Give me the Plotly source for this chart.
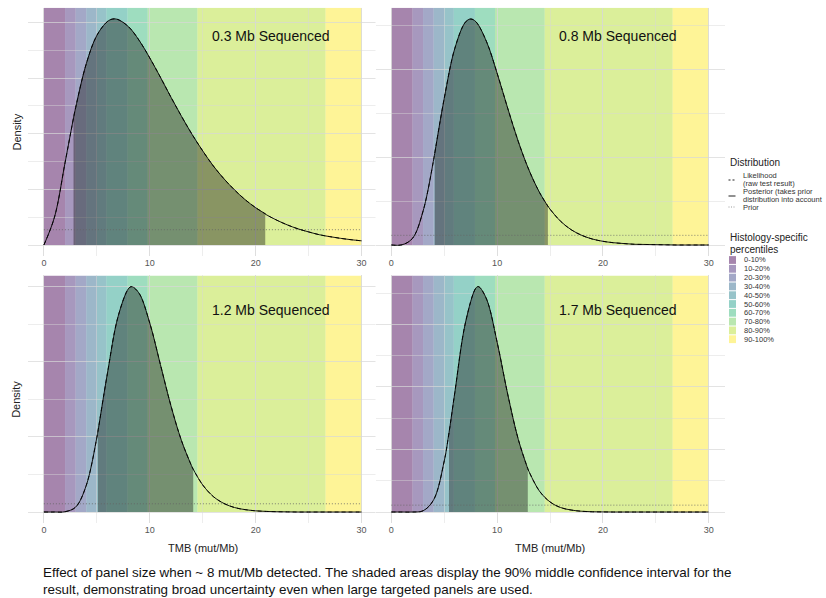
import plotly.graph_objects as go

# ------------------------------------------------------------------ data
panel_titles = ["0.3 Mb Sequenced", "0.8 Mb Sequenced", "1.2 Mb Sequenced", "1.7 Mb Sequenced"]

tmb_03 = [0, 1, 2, 2.8, 3, 4, 5, 6, 6.5, 7, 8, 9, 10, 11, 12, 13, 14, 15, 16, 17, 18, 19, 20,
          20.9, 21, 22, 23, 24, 25, 26, 27, 28, 29, 30]
post_03 = [0, 0.0100, 0.0296, 0.0457, 0.0494, 0.0651, 0.0753, 0.0803, 0.0812, 0.0810, 0.0784,
           0.0735, 0.0672, 0.0603, 0.0531, 0.0462, 0.0397, 0.0338, 0.0284, 0.0238, 0.0198,
           0.0163, 0.0134, 0.0112, 0.0109, 0.0089, 0.0072, 0.0058, 0.0047, 0.0037, 0.0030,
           0.0024, 0.0019, 0.0015]

tmb_08 = [0, 1, 2, 3, 4, 4.1, 5, 6, 7, 7.5, 8, 9, 10, 11, 12, 13, 14, 14.8, 15, 16, 17, 18, 19,
          20, 21, 22, 23, 24, 25, 26, 27, 28, 29, 30]
post_08 = [0, 0.0001, 0.0038, 0.0193, 0.0486, 0.0521, 0.0834, 0.1118, 0.1267, 0.1285, 0.1269,
           0.1156, 0.0977, 0.0778, 0.0589, 0.0428, 0.0300, 0.0221, 0.0204, 0.0135, 0.0087,
           0.0055, 0.0034, 0.0021, 0.0013, 0.0008, 0.0004, 0.0003, 0.0002, 0.0001, 0, 0, 0, 0]

tmb_12 = [0, 1, 2, 3, 4, 5, 5.1, 6, 7, 8, 8.3, 9, 10, 11, 12, 13, 14, 14.1, 15, 16, 17, 18, 19,
          20, 21, 22, 23, 24, 25, 26, 27, 28, 29, 30]
post_12 = [0, 0.0000, 0.0002, 0.0033, 0.0177, 0.0496, 0.0536, 0.0924, 0.1301, 0.1489, 0.1501,
           0.1456, 0.1258, 0.0983, 0.0707, 0.0474, 0.0299, 0.0285, 0.0180, 0.0103, 0.0057,
           0.0030, 0.0016, 0.0008, 0.0004, 0.0002, 0.0001, 0, 0, 0, 0, 0, 0, 0]

tmb_17 = [0, 1, 2, 3, 4, 5, 5.45, 6, 7, 8, 8.25, 9, 10, 11, 12, 12.9, 13, 14, 15, 16, 17, 18,
          19, 20, 21, 22, 23, 24, 25, 26, 27, 28, 29, 30]
post_17 = [0, 0, 0.0000, 0.0010, 0.0098, 0.0408, 0.0634, 0.0956, 0.1512, 0.1792, 0.1802,
           0.1703, 0.1359, 0.0943, 0.0582, 0.0347, 0.0326, 0.0168, 0.0081, 0.0036, 0.0016,
           0.0006, 0.0002, 0.0001, 0, 0, 0, 0, 0, 0, 0, 0, 0, 0]

# likelihood curves coincide with the posterior curves in the picture
lik_03 = list(post_03)
lik_08 = list(post_08)
lik_12 = list(post_12)
lik_17 = list(post_17)

# 90% middle interval (shaded area) for each panel
ci_low = [2.8, 4.1, 5.1, 5.45]
ci_high = [20.9, 14.8, 14.1, 12.9]

# flat prior
prior_x = [0, 30]
prior_y = [0.0055, 0.0055]

# histology-specific percentile bands (TMB boundaries)
pct_bounds = [0, 2.0, 3.0, 4.0, 5.0, 5.9, 7.9, 9.8, 14.5, 26.6, 30]
pct_labels = ["0-10%", "10-20%", "20-30%", "30-40%", "40-50%", "50-60%", "60-70%",
              "70-80%", "80-90%", "90-100%"]
pct_colors = ["#440154", "#482878", "#3E4A89", "#31688E", "#26828E", "#1F9E89",
              "#35B779", "#6DCD59", "#B4DE2C", "#FDE725"]

x_ticks = [0, 10, 20, 30]
x_tick_labels = ["0", "10", "20", "30"]

dist_labels = [["Likelihood", "(raw test result)"],
               ["Posterior (takes prior", "distribution into account"],
               ["Prior"]]

caption = ("Effect of panel size when ~ 8 mut/Mb detected. The shaded areas display the 90% "
           "middle confidence interval for the<br>result, demonstrating broad uncertainty even "
           "when large targeted panels are used.")

# ------------------------------------------------------------------ style / layout
W, H = 826, 598
FONT = "Liberation Sans, Arial, Helvetica, sans-serif"


def fx(px):
    return px / W


def fy(py):
    return 1 - py / H


def rgba(hexc, a):
    h = hexc.lstrip("#")
    return "rgba(%d,%d,%d,%.3f)" % (int(h[0:2], 16), int(h[2:4], 16), int(h[4:6], 16), a)


panels = [
    (tmb_03, post_03, lik_03, 0.02, 0.01),
    (tmb_08, post_08, lik_08, 0.05, 0.025),
    (tmb_12, post_12, lik_12, 0.05, 0.025),
    (tmb_17, post_17, lik_17, 0.05, 0.025),
]
# pixel boxes (left, right, top, bottom) of each panel
boxes = [(28, 377.5, 7.7, 256.3), (375.5, 724.5, 7.7, 256.3),
         (28, 377.5, 275.4, 523.3), (375.5, 724.5, 275.4, 523.3)]
title_y = [0.886, 0.886, 0.862, 0.862]

GRID = "rgba(215,215,215,0.70)"
MINOR = "rgba(215,215,215,0.45)"
BAND_ALPHA = 0.48

fig = go.Figure()
shapes = []
annotations = []
layout = dict(width=W, height=H, margin=dict(l=0, r=0, t=0, b=0),
              paper_bgcolor="white", plot_bgcolor="white", showlegend=False,
              font=dict(family=FONT, color="#222"))

for k, (xs, post, lik, major, minor) in enumerate(panels):
    n = "" if k == 0 else str(k + 1)
    xa, ya = "x" + n, "y" + n
    l, r, t, b = boxes[k]
    ymax = max(post)
    ytop = 1.05 * ymax
    layout["xaxis" + n] = dict(
        domain=[fx(l), fx(r)], range=[-1.5, 31.5], anchor=ya,
        tickmode="array", tickvals=x_ticks, ticktext=x_tick_labels, ticks="",
        showline=False, zeroline=False, showgrid=True, gridcolor=GRID, gridwidth=1,
        minor=dict(dtick=5, tick0=0, showgrid=True, gridcolor=MINOR, gridwidth=0.6),
        tickfont=dict(size=9, color="#555555", family=FONT), fixedrange=True)
    layout["yaxis" + n] = dict(
        domain=[fy(b), fy(t)], range=[-0.05 * ymax, ytop], anchor=xa,
        showticklabels=False, ticks="", zeroline=False, showline=False,
        dtick=major, tick0=0, showgrid=True, gridcolor=GRID, gridwidth=1,
        minor=dict(dtick=minor, tick0=0, showgrid=True, gridcolor=MINOR, gridwidth=0.6),
        fixedrange=True)

    # percentile bands
    for j in range(len(pct_colors)):
        shapes.append(dict(type="rect", xref=xa, yref=ya, x0=pct_bounds[j], x1=pct_bounds[j + 1],
                           y0=0, y1=ytop, fillcolor=rgba(pct_colors[j], BAND_ALPHA),
                           line=dict(width=0), layer="below"))

    # shaded 90% interval
    sx = [x for x in xs if ci_low[k] <= x <= ci_high[k]]
    sy = [y for x, y in zip(xs, post) if ci_low[k] <= x <= ci_high[k]]
    fig.add_trace(go.Scatter(x=sx, y=sy, xaxis=xa, yaxis=ya, mode="lines", fill="tozeroy",
                             fillcolor="rgba(25,25,25,0.42)", line=dict(width=0, shape="spline"),
                             hoverinfo="skip"))
    # prior
    fig.add_trace(go.Scatter(x=prior_x, y=prior_y, xaxis=xa, yaxis=ya, mode="lines",
                             line=dict(color="#666666", width=0.8, dash="1px,2px")))
    # likelihood
    fig.add_trace(go.Scatter(x=xs, y=lik, xaxis=xa, yaxis=ya, mode="lines",
                             line=dict(color="black", width=0.9, dash="4px,3px", shape="spline")))
    # posterior
    fig.add_trace(go.Scatter(x=xs, y=post, xaxis=xa, yaxis=ya, mode="lines",
                             line=dict(color="black", width=0.9, shape="spline")))

    annotations.append(dict(text=panel_titles[k], xref=xa, yref=ya + " domain", x=21.4,
                            y=title_y[k], showarrow=False, xanchor="center", yanchor="middle",
                            font=dict(size=14, color="#111111", family=FONT)))

# axis titles
for yc in [(7.7 + 256.3) / 2, (275.4 + 523.3) / 2]:
    annotations.append(dict(text="Density", xref="paper", yref="paper", x=fx(16.5), y=fy(yc),
                            textangle=-90, showarrow=False, xanchor="center", yanchor="middle",
                            font=dict(size=11, color="#222222", family=FONT)))
for xc in [(28 + 377.5) / 2, (375.5 + 724.5) / 2]:
    annotations.append(dict(text="TMB (mut/Mb)", xref="paper", yref="paper", x=fx(xc), y=fy(548),
                            showarrow=False, xanchor="center", yanchor="middle",
                            font=dict(size=11, color="#222222", family=FONT)))

# caption
annotations.append(dict(text=caption, xref="paper", yref="paper", x=fx(41), y=fy(580.5),
                        showarrow=False, xanchor="left", yanchor="middle", align="left",
                        font=dict(size=13.4, color="#111111", family=FONT)))

# legend: Distribution
LX = 728
annotations.append(dict(text="Distribution", xref="paper", yref="paper", x=fx(LX), y=fy(162),
                        showarrow=False, xanchor="left", yanchor="middle",
                        font=dict(size=10, color="#222222", family=FONT)))
text_rows = [[175, 183], [191.5, 199.5], [207]]
key_rows = [180, 196, 207]
key_dash = ["2px,2px", "solid", "1px,1.5px"]
key_col = ["#222222", "#222222", "#999999"]
for i, lines in enumerate(dist_labels):
    for txt, yy in zip(lines, text_rows[i]):
        annotations.append(dict(text=txt, xref="paper", yref="paper", x=fx(741), y=fy(yy),
                                showarrow=False, xanchor="left", yanchor="middle",
                                font=dict(size=7.5, color="#333333", family=FONT)))
    shapes.append(dict(type="line", xref="paper", yref="paper", x0=fx(728.5), x1=fx(735.5),
                       y0=fy(key_rows[i]), y1=fy(key_rows[i]),
                       line=dict(color=key_col[i], width=1, dash=key_dash[i])))

# legend: percentiles
annotations.append(dict(text="Histology-specific", xref="paper", yref="paper", x=fx(LX), y=fy(237),
                        showarrow=False, xanchor="left", yanchor="middle",
                        font=dict(size=10, color="#222222", family=FONT)))
annotations.append(dict(text="percentiles", xref="paper", yref="paper", x=fx(LX), y=fy(249),
                        showarrow=False, xanchor="left", yanchor="middle",
                        font=dict(size=10, color="#222222", family=FONT)))
for j, (lab, col) in enumerate(zip(pct_labels, pct_colors)):
    yc = 260 + 8.8 * j
    shapes.append(dict(type="rect", xref="paper", yref="paper", x0=fx(729), x1=fx(736),
                       y0=fy(yc + 3.9), y1=fy(yc - 3.9), fillcolor=rgba(col, BAND_ALPHA),
                       line=dict(width=0)))
    annotations.append(dict(text=lab, xref="paper", yref="paper", x=fx(741.5), y=fy(yc),
                            showarrow=False, xanchor="left", yanchor="middle",
                            font=dict(size=7.5, color="#333333", family=FONT)))

layout["shapes"] = shapes
layout["annotations"] = annotations
fig.update_layout(**layout)

fig.write_html("out.html", config={"displayModeBar": False},
               post_script="document.body.style.margin='0px';")
